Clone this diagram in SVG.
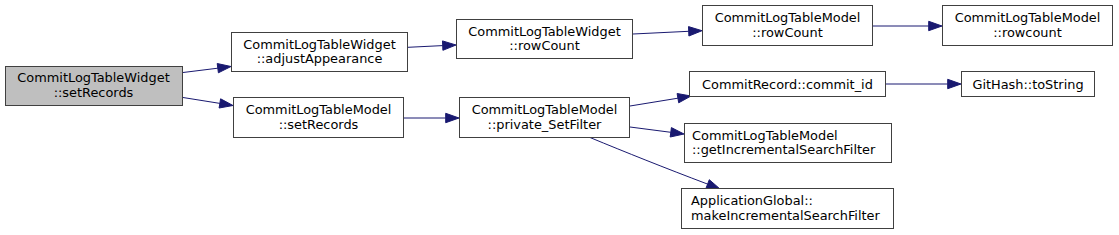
<svg xmlns="http://www.w3.org/2000/svg" width="1119" height="235" viewBox="0 0 1119 235">
<style>
.n rect{fill:#ffffff;stroke:#404040;stroke-width:1}
#root rect{fill:#bfbfbf}
text{font-family:"DejaVu Sans","Liberation Sans",sans-serif;font-size:12.9px;fill:#000}
.c{text-anchor:middle}
.l{text-anchor:start}
#edges path{fill:none;stroke:#191970;stroke-width:1}
#edges polygon{fill:#191970;stroke:#191970;stroke-width:1}
</style>
<rect width="1119" height="235" fill="#ffffff"/>
<g id="edges">
<path d="M183,72.5 L217.8,68.2"/><polygon points="231,66.5 218.4,72.8 217.2,63.5"/>
<path d="M183,97.5 L219.9,103.4"/><polygon points="233,105.5 219.1,108 220.6,98.8"/>
<path d="M408,47.3 L442.7,45.6"/><polygon points="456,45 442.9,50.3 442.5,40.9"/>
<path d="M633,34 L688.7,31.3"/><polygon points="702,30.7 688.9,36 688.5,26.6"/>
<path d="M873,26 L928.7,26"/><polygon points="942,26 928.7,30.7 928.7,21.3"/>
<path d="M404,118 L445.7,118"/><polygon points="459,118 445.7,122.7 445.7,113.3"/>
<path d="M630,106 L677.9,98.2"/><polygon points="691,96 678.7,102.8 677.1,93.5"/>
<path d="M630,127 L670.8,132.3"/><polygon points="684,134 670.2,137 671.4,127.6"/>
<path d="M590,137.5 C625,152 665,168 707.6,184.1"/><polygon points="720,189 705.9,188.5 709.3,179.7"/>
<path d="M886,84 L947.7,84"/><polygon points="961,84 947.7,88.7 947.7,79.3"/>
</g>
<g id="root" class="n"><rect x="5.5" y="66.5" width="177" height="39"/><text class="c" x="93.5" y="82">CommitLogTableWidget</text><text class="c" x="93.5" y="96.7">::setRecords</text></g>
<g id="adjustAppearance" class="n"><rect x="231.5" y="32.5" width="176" height="39"/><text class="c" x="319.5" y="48.5">CommitLogTableWidget</text><text class="c" x="319.5" y="63.2">::adjustAppearance</text></g>
<g id="widgetRowCount" class="n"><rect x="456.5" y="19.5" width="176" height="39"/><text class="c" x="544.5" y="35.5">CommitLogTableWidget</text><text class="c" x="544.5" y="50.2">::rowCount</text></g>
<g id="modelSetRecords" class="n"><rect x="233.5" y="97.5" width="170" height="40"/><text class="c" x="318.5" y="114">CommitLogTableModel</text><text class="c" x="318.5" y="128.7">::setRecords</text></g>
<g id="privateSetFilter" class="n"><rect x="459.5" y="97.5" width="170" height="40"/><text class="c" x="544.5" y="114">CommitLogTableModel</text><text class="c" x="544.5" y="128.7">::private_SetFilter</text></g>
<g id="modelRowCount" class="n"><rect x="702.5" y="5.5" width="170" height="40"/><text class="c" x="787.5" y="22">CommitLogTableModel</text><text class="c" x="787.5" y="36.7">::rowCount</text></g>
<g id="modelRowcountLower" class="n"><rect x="942.5" y="5.5" width="170" height="40"/><text class="c" x="1027.5" y="22">CommitLogTableModel</text><text class="c" x="1027.5" y="36.7">::rowcount</text></g>
<g id="commitId" class="n"><rect x="689.5" y="71.5" width="196" height="25"/><text class="c" x="787.5" y="88.5">CommitRecord::commit_id</text></g>
<g id="toString" class="n"><rect x="961.5" y="71.5" width="133" height="25"/><text class="c" x="1028" y="88.5">GitHash::toString</text></g>
<g id="getIncrementalSearchFilter" class="n"><rect x="684.5" y="123.5" width="207" height="39"/><text class="l" x="692" y="139.5">CommitLogTableModel</text><text class="l" x="692" y="154.2">::getIncrementalSearchFilter</text></g>
<g id="makeIncrementalSearchFilter" class="n"><rect x="681.5" y="188.5" width="212" height="40"/><text class="l" x="691" y="205">ApplicationGlobal::</text><text class="l" x="691" y="219.7">makeIncrementalSearchFilter</text></g>
</svg>
